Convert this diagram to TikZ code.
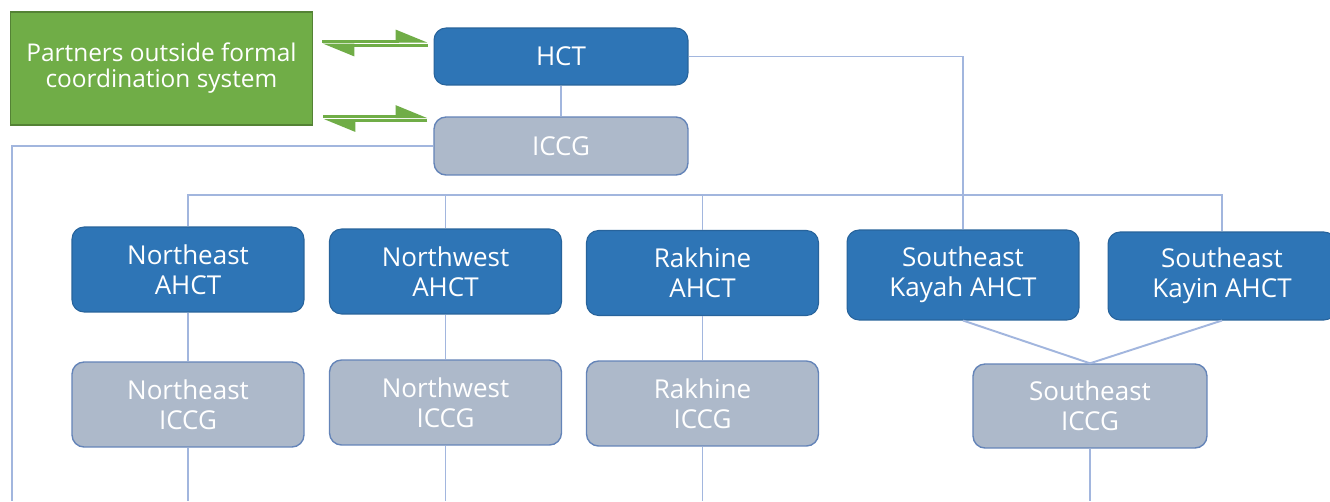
\documentclass[tikz,border=0pt]{standalone}
\usepackage{fontspec}
\setmainfont{Open Sans}
\usetikzlibrary{arrows.meta,positioning,calc}
\definecolor{hctblue}{RGB}{46,117,182}
\definecolor{iccggrey}{RGB}{173,185,202}
\definecolor{iccgline}{RGB}{100,132,184}
\definecolor{linkblue}{RGB}{162,182,222}
\definecolor{partgreen}{RGB}{112,173,71}
\definecolor{partdark}{RGB}{84,130,53}

\begin{document}
\begin{tikzpicture}[x=0.02cm,y=-0.02cm,
  box/.style={rounded corners=0.24cm,align=center,text=white,inner sep=2pt,
    font=\fontsize{14.8}{17}\selectfont,minimum width=4.64cm,minimum height=1.7cm},
  ahct/.style={box,fill=hctblue,draw=hctblue!85!black,line width=0.6pt},
  iccg/.style={box,fill=iccggrey,draw=iccgline,line width=0.8pt},
  link/.style={draw=linkblue,line width=1.1pt},
  harp/.style={draw=partgreen,line width=0.06cm,-{Triangle[harpoon,length=0.56cm,width=0.44cm]}}]
  \clip (0,0) rectangle (1330,501);
  \fill[white] (0,0) rectangle (1330,501);
  % top level
  \node[fill=partgreen,draw=partdark,line width=0.6pt,text=white,align=center,
    minimum width=6.06cm,minimum height=2.26cm,font=\fontsize{13.9}{14.8}\selectfont]
    (P) at (161.5,68.5) {Partners outside formal\\coordination system};
  \node[ahct,minimum width=5.08cm,minimum height=1.14cm] (HCT) at (561,56.5) {HCT};
  \node[iccg,minimum width=5.08cm,minimum height=1.16cm] (ICCG) at (561,146) {ICCG};
  % area teams
  \node[ahct] (NEa) at (188,269.5) {Northeast\\AHCT};
  \node[ahct] (NWa) at (445.5,271.5) {Northwest\\AHCT};
  \node[ahct] (RKa) at (702.5,273) {Rakhine\\AHCT};
  \node[ahct,minimum height=1.8cm] (KYa) at (963,275) {Southeast\\Kayah AHCT};
  \node[ahct,minimum height=1.76cm,minimum width=4.56cm] (KNa) at (1222,276) {Southeast\\Kayin AHCT};
  % area ICCGs
  \node[iccg] (NEi) at (188,404.5) {Northeast\\ICCG};
  \node[iccg] (NWi) at (445.5,402.5) {Northwest\\ICCG};
  \node[iccg] (RKi) at (702.5,403.5) {Rakhine\\ICCG};
  \node[iccg,minimum width=4.68cm,minimum height=1.68cm] (SEi) at (1090,406) {Southeast\\ICCG};
  \coordinate (bar) at (0,195);
  \coordinate (edge) at (12,501);
  % connectors
  \draw[link] (HCT) -- (ICCG);
  \draw[link] (HCT.east) -| (KYa.north);
  \draw[link] (ICCG.west) -| (edge);
  \draw[link] (NEa.north) -- (NEa.north |- bar) -| (KNa.north);
  \draw[link] (NWa.north) -- (NWa.north |- bar);
  \draw[link] (RKa.north) -- (RKa.north |- bar);
  \draw[link] (NEa) -- (NEi);
  \draw[link] (NWa) -- (NWi);
  \draw[link] (RKa) -- (RKi);
  \draw[link] (KYa.south) -- (SEi.north);
  \draw[link] (KNa.south) -- (SEi.north);
  \foreach \n in {NEi,NWi,RKi,SEi}
    \draw[link] (\n.south) -- (\n.south |- edge);
  % exchange with partners
  \draw[harp] ($(P.east|-HCT.west)+(9,-15.5)$) -- ($(HCT.west)+(-6,-15.5)$);
  \draw[harp] ($(HCT.west)+(-6,-11.5)$) -- ($(P.east|-HCT.west)+(9,-11.5)$);
  \draw[harp] ($(P.east|-ICCG.west)+(10,-29.5)$) -- ($(ICCG.west)+(-6,-29.5)$);
  \draw[harp] ($(ICCG.west)+(-6,-25.5)$) -- ($(P.east|-ICCG.west)+(10,-25.5)$);
\end{tikzpicture}
\end{document}
